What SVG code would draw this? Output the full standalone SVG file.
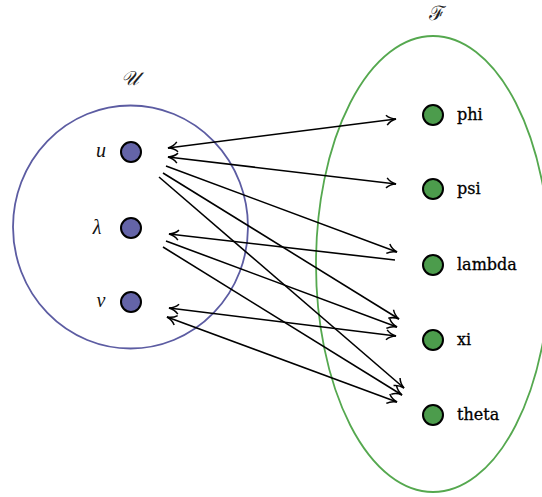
<svg xmlns="http://www.w3.org/2000/svg" width="542" height="497" viewBox="0 0 542 497">
<style>
.lab{font-family:"DejaVu Serif","Liberation Serif",serif;font-size:16px;fill:#000;stroke:#000;stroke-width:0.3}
.var{font-family:"Liberation Serif",serif;font-style:italic;font-size:20px;fill:#111}
.ttl{font-family:"DejaVu Serif","Noto Sans","DejaVu Sans",serif;font-style:italic;font-size:20px;fill:#222}
.ln{stroke:#000;stroke-width:1.6;fill:none}
.nl{fill:#6464a8;stroke:#000;stroke-width:2}
.nr{fill:#4c9c4c;stroke:#000;stroke-width:2}
</style>
<defs>
<marker id="ah" viewBox="0 0 12 12" refX="11" refY="6" markerWidth="12" markerHeight="12" markerUnits="userSpaceOnUse" orient="auto-start-reverse">
<path d="M1.5,1 Q5,5 11,6 Q5,7 1.5,11" fill="none" stroke="#000" stroke-width="1.5"/>
</marker>
</defs>
<g id="setU">
<ellipse cx="130.5" cy="227" rx="117.5" ry="121.5" fill="none" stroke="#5c5ca2" stroke-width="1.8"/>
<text class="ttl" x="130" y="85" text-anchor="middle">𝒰</text>
</g>
<g id="setF">
<ellipse cx="433" cy="264" rx="117" ry="228" fill="none" stroke="#55a84f" stroke-width="1.8"/>
<text class="ttl" x="437" y="20" text-anchor="middle">ℱ</text>
</g>
<g id="node-u"><circle class="nl" cx="131" cy="152" r="10"/><text class="var" x="101" y="157" text-anchor="middle">u</text></g>
<g id="node-lam"><circle class="nl" cx="131" cy="228" r="10"/><text class="var" x="97" y="234" text-anchor="middle">λ</text></g>
<g id="node-v"><circle class="nl" cx="131" cy="302" r="10"/><text class="var" x="101" y="307" text-anchor="middle">v</text></g>
<g id="node-phi"><circle class="nr" cx="433" cy="115" r="10"/><text class="lab" x="457" y="120">phi</text></g>
<g id="node-psi"><circle class="nr" cx="433" cy="189" r="10"/><text class="lab" x="457" y="194">psi</text></g>
<g id="node-lambda"><circle class="nr" cx="433" cy="265" r="10"/><text class="lab" x="457" y="270">lambda</text></g>
<g id="node-xi"><circle class="nr" cx="433" cy="340" r="10"/><text class="lab" x="457" y="345">xi</text></g>
<g id="node-theta"><circle class="nr" cx="433" cy="415" r="10"/><text class="lab" x="457" y="420">theta</text></g>
<g id="connectors">
<line class="ln" x1="168" y1="148" x2="396" y2="119" marker-start="url(#ah)" marker-end="url(#ah)"/>
<line class="ln" x1="168" y1="157" x2="396" y2="184" marker-start="url(#ah)" marker-end="url(#ah)"/>
<line class="ln" x1="166" y1="166" x2="397" y2="252" marker-end="url(#ah)"/>
<line class="ln" x1="163" y1="173" x2="399" y2="319" marker-end="url(#ah)"/>
<line class="ln" x1="159" y1="177" x2="404" y2="388" marker-end="url(#ah)"/>
<line class="ln" x1="395" y1="260" x2="169" y2="234" marker-end="url(#ah)"/>
<line class="ln" x1="166" y1="241" x2="397" y2="327" marker-end="url(#ah)"/>
<line class="ln" x1="163" y1="247" x2="402" y2="395" marker-end="url(#ah)"/>
<line class="ln" x1="169" y1="308" x2="396" y2="336" marker-start="url(#ah)" marker-end="url(#ah)"/>
<line class="ln" x1="167" y1="317" x2="397" y2="402" marker-start="url(#ah)" marker-end="url(#ah)"/>
</g>
</svg>
